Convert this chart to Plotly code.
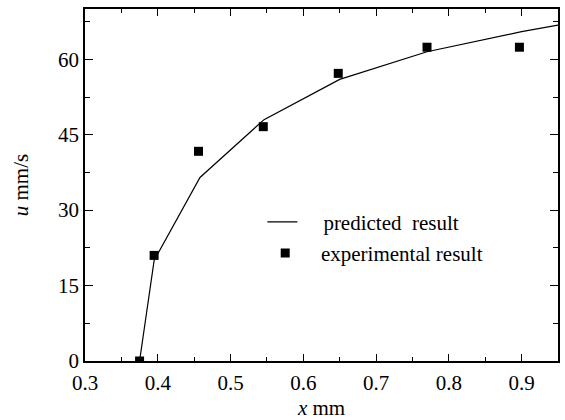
import plotly.graph_objects as go

# predicted curve
pred_x = [0.375, 0.395, 0.458, 0.546, 0.650, 0.770, 0.900, 0.950]
pred_u = [0.0, 20.0, 36.5, 48.0, 56.0, 61.5, 65.5, 66.8]

# experimental points
exp_x = [0.375, 0.395, 0.456, 0.545, 0.648, 0.770, 0.897]
exp_u = [0.0, 21.0, 41.7, 46.6, 57.2, 62.4, 62.4]

x_ticks = [0.3, 0.4, 0.5, 0.6, 0.7, 0.8, 0.9]
x_ticklabels = ["0.3", "0.4", "0.5", "0.6", "0.7", "0.8", "0.9"]
x_minor = [0.35, 0.45, 0.55, 0.65, 0.75, 0.85]
y_ticks = [0, 15, 30, 45, 60]
y_ticklabels = ["0", "15", "30", "45", "60"]
y_minor = [7.5, 22.5, 37.5, 52.5, 67.5]

FONT = "Liberation Serif, Times New Roman, serif"
FS = 21
NB = "\u00a0"

fig = go.Figure()
fig.add_trace(go.Scatter(
    x=pred_x, y=pred_u, mode="lines",
    line=dict(color="black", width=1.2),
    name=NB * 4 + "predicted  result".replace(" ", NB), legend="legend",
))
fig.add_trace(go.Scatter(
    x=exp_x, y=exp_u, mode="markers",
    marker=dict(symbol="square", size=9, color="black"),
    name=NB * 3 + "experimental result", legend="legend2",
))
# empty helper trace so the mirrored (top/right) tick axes are drawn
fig.add_trace(go.Scatter(x=[None], y=[None], xaxis="x2", yaxis="y2",
                         showlegend=False, hoverinfo="skip"))

tick_common = dict(
    showgrid=False, zeroline=False, ticks="inside", tickcolor="black", tickwidth=1.3,
    tickfont=dict(family=FONT, size=FS, color="black"), automargin=False,
)

fig.update_layout(
    xaxis=dict(
        range=[0.3, 0.95], tickvals=x_ticks, ticktext=x_ticklabels, ticklen=7,
        showline=True, linecolor="black", linewidth=1.5, mirror=True, ticklabelstandoff=2,
        minor=dict(ticks="inside", ticklen=4, tickvals=x_minor, tickcolor="black", tickwidth=1.3),
        title=dict(text="<i>x</i> mm", font=dict(family=FONT, size=FS, color="black"), standoff=8),
        **tick_common,
    ),
    yaxis=dict(
        range=[0, 70], tickvals=y_ticks, ticktext=y_ticklabels, ticklen=8,
        showline=True, linecolor="black", linewidth=1.5, mirror=True,
        minor=dict(ticks="inside", ticklen=5, tickvals=y_minor, tickcolor="black", tickwidth=1.3),
        title=dict(text="<i>u</i> mm/s", font=dict(family=FONT, size=FS, color="black"), standoff=24),
        **tick_common,
    ),
    xaxis2=dict(
        overlaying="x", side="top", range=[0.3, 0.95], tickvals=x_ticks, ticklen=7,
        showticklabels=False, showline=False,
        minor=dict(ticks="inside", ticklen=4, tickvals=x_minor, tickcolor="black", tickwidth=1.3),
        **tick_common,
    ),
    yaxis2=dict(
        overlaying="y", side="right", range=[0, 70], tickvals=y_ticks, ticklen=8,
        showticklabels=False, showline=False,
        minor=dict(ticks="inside", ticklen=5, tickvals=y_minor, tickcolor="black", tickwidth=1.3),
        **tick_common,
    ),
)

leg_common = dict(
    font=dict(family=FONT, size=FS, color="black"),
    bgcolor="rgba(0,0,0,0)", borderwidth=0,
    xanchor="left", yanchor="middle",
)
fig.update_layout(
    width=565, height=420,
    margin=dict(l=85, r=7, t=9, b=59, autoexpand=False),
    paper_bgcolor="white", plot_bgcolor="white",
    showlegend=True,
    legend=dict(x=0.375, y=0.394, **leg_common),
    legend2=dict(x=0.381, y=0.306, **leg_common),
)

fig.write_html("out.html", config={"displayModeBar": False},
               post_script="document.body.style.margin='0';")
